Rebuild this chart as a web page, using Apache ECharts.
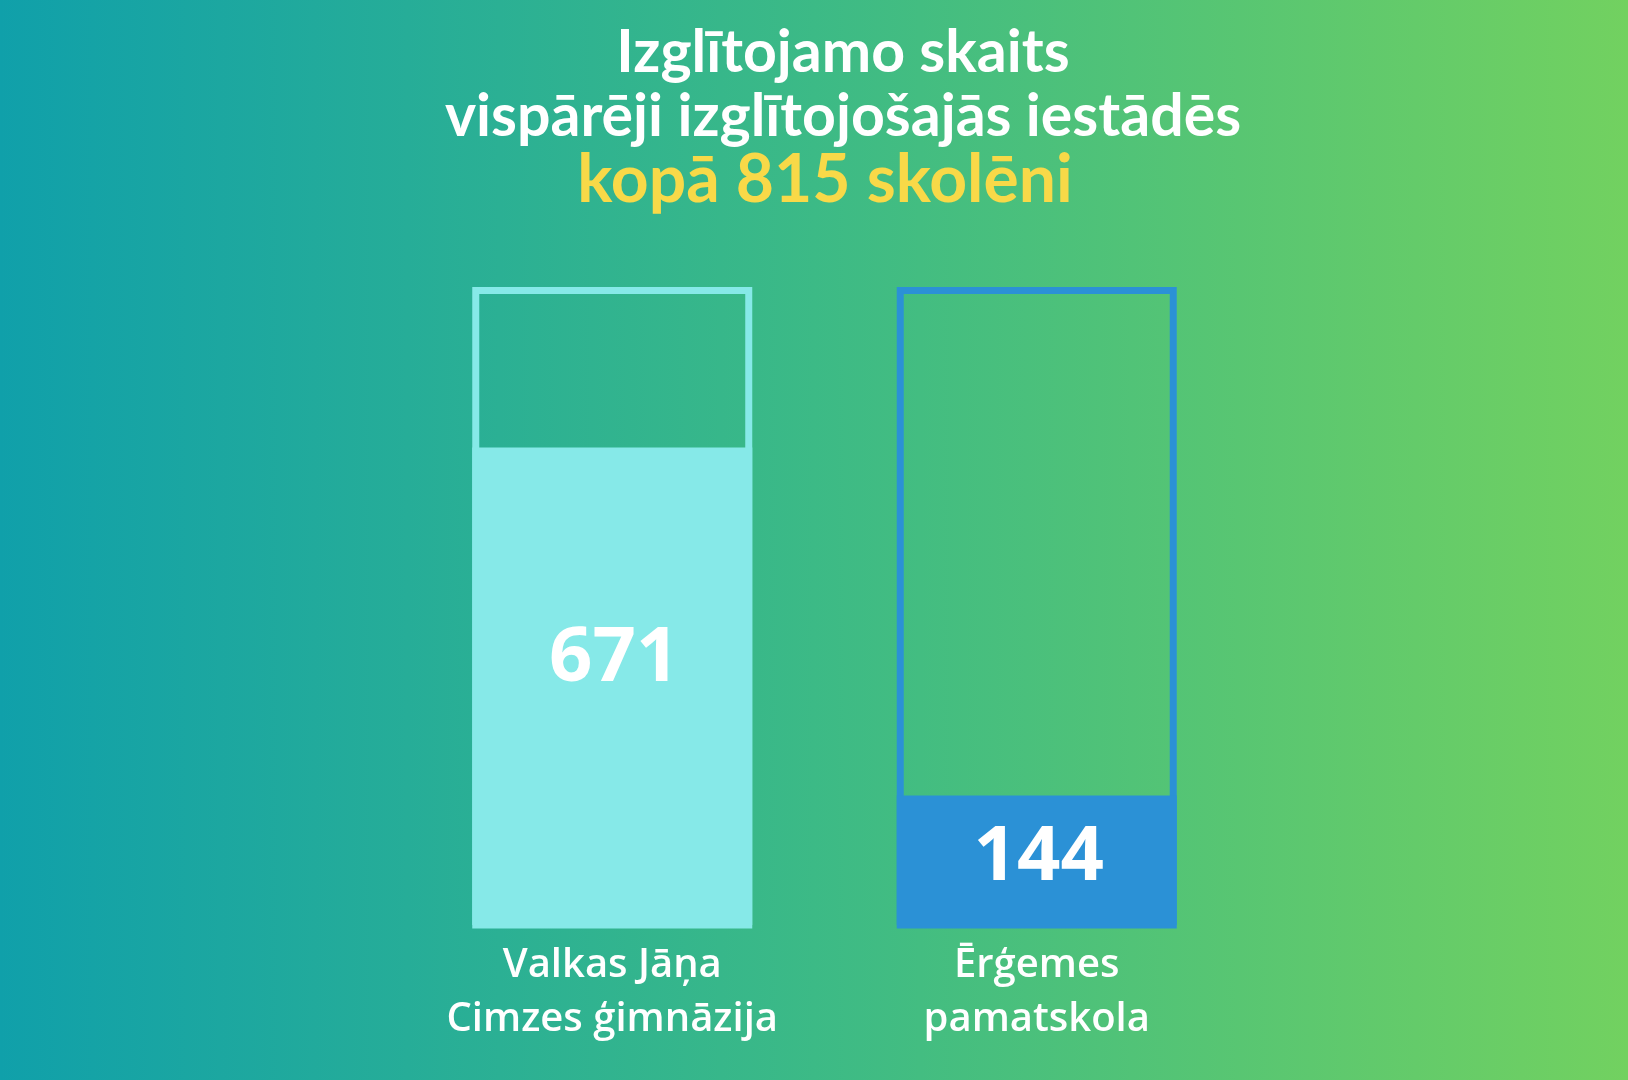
<!DOCTYPE html>
<html>
<head>
<meta charset="utf-8">
<script src="https://cdn.jsdelivr.net/npm/echarts@6/dist/echarts.min.js"></script>
<style>
  html, body { margin: 0; padding: 0; }
  #chart { width: 1628px; height: 1080px; }
</style>
</head>
<body>
<div id="chart"></div>
<script>
// ---- data ----
const titleLines = ['Izglītojamo skaits', 'vispārēji izglītojošajās iestādēs'];
const totalLine = 'kopā 815 skolēni';
const schools = ['Valkas Jāņa\nCimzes ģimnāzija', 'Ērģemes\npamatskola'];
const students = [671, 144];
const barColors = ['#86e9e8', '#2b91d6'];

// ---- axis range (hidden axis) ----
const Y_MIN = -52;
const Y_MAX = 914;
const BAR_WIDTH = 280;
const FRAME_W = 7;

const chart = echarts.init(document.getElementById('chart'));

const seriesData = students.map((v, i) => [i, v]);

const option = {
  backgroundColor: {
    type: 'linear', x: 0, y: 0, x2: 1, y2: 0,
    colorStops: [
      { offset: 0, color: '#10a0aa' },
      { offset: 0.5, color: '#3cba86' },
      { offset: 1, color: '#72d160' }
    ]
  },
  title: {
    left: 838,
    top: 16,
    textAlign: 'center',
    text: '{w|' + titleLines[0] + '}\n{w|' + titleLines[1] + '}\n{y|' + totalLine + '}',
    textStyle: {
      rich: {
        w: { color: '#ffffff', fontFamily: 'Lato', fontWeight: 'bold', fontSize: 59, lineHeight: 64 },
        y: { color: '#f8d948', fontFamily: 'Lato', fontWeight: 'bold', fontSize: 66, lineHeight: 64, padding: [0, 36, 0, 0] }
      }
    }
  },
  grid: { left: 400, right: 379, top: 287, bottom: 155 },
  xAxis: {
    type: 'category',
    data: schools,
    axisLine: { show: false },
    axisTick: { show: false },
    splitLine: { show: false },
    axisLabel: {
      interval: 0,
      hideOverlap: false,
      color: '#ffffff',
      fontFamily: 'Open Sans',
      fontWeight: 600,
      fontSize: 40,
      lineHeight: 54,
      margin: 14
    }
  },
  yAxis: {
    type: 'value',
    min: Y_MIN,
    max: Y_MAX,
    show: false,
    splitLine: { show: false }
  },
  series: [{
    type: 'custom',
    data: seriesData,
    encode: { x: 0, y: 1 },
    renderItem: function (params, api) {
      const idx = api.value(0);
      const val = api.value(1);
      const cs = params.coordSys;
      const topPt = api.coord([idx, val]);
      const basePt = api.coord([idx, Y_MIN]);
      const cx = topPt[0];
      const x0 = cx - BAR_WIDTH / 2;
      const color = barColors[idx];
      const h = basePt[1] - topPt[1];
      return {
        type: 'group',
        children: [
          {
            type: 'rect',
            shape: {
              x: x0 + FRAME_W / 2,
              y: cs.y + FRAME_W / 2,
              width: BAR_WIDTH - FRAME_W,
              height: basePt[1] - cs.y - FRAME_W / 2
            },
            style: { fill: 'transparent', stroke: color, lineWidth: FRAME_W }
          },
          {
            type: 'rect',
            shape: { x: x0, y: topPt[1], width: BAR_WIDTH, height: h },
            style: { fill: color }
          },
          {
            type: 'text',
            x: cx + 2,
            y: topPt[1] + 0.43 * h + 7,
            style: {
              text: String(val),
              fill: '#ffffff',
              fontFamily: 'Open Sans',
              fontWeight: 'bold',
              fontSize: 76,
              align: 'center',
              verticalAlign: 'middle'
            }
          }
        ]
      };
    }
  }]
};

chart.setOption(option);
</script>
</body>
</html>
